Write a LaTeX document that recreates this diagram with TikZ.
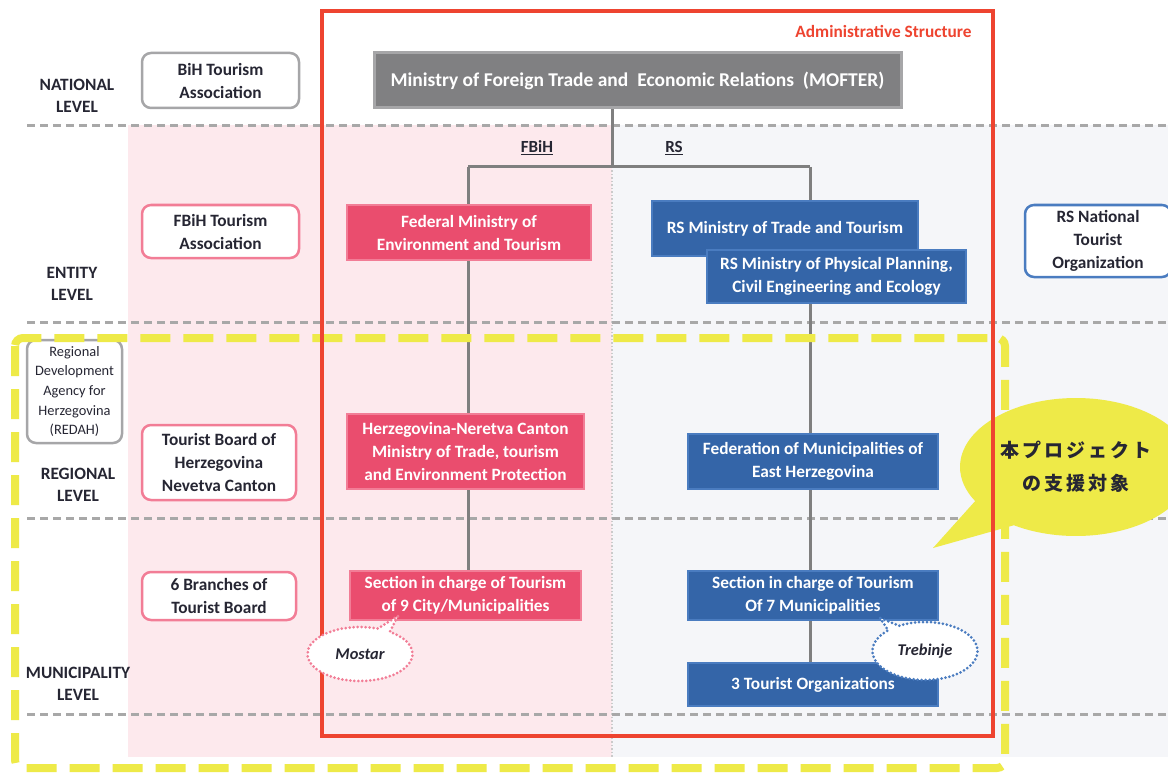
\documentclass[tikz,border=0pt]{standalone}
\usepackage{fontspec}
\setmainfont{Carlito}
\newfontfamily\jpfont{Noto Sans CJK JP}[LetterSpace=15]
\usetikzlibrary{shapes.geometric,shapes.callouts}
\definecolor{pinkfill}{HTML}{EA4D6E}
\definecolor{pinkline}{HTML}{F27D96}
\definecolor{bluefill}{HTML}{3465A8}
\definecolor{blueline}{HTML}{4A7CC0}
\definecolor{grayfill}{HTML}{808082}
\definecolor{grayline}{HTML}{A6A6A8}
\definecolor{pinkbg}{HTML}{FDE9ED}
\definecolor{graybg}{HTML}{F5F6F9}
\definecolor{gridgray}{HTML}{A8A8A8}
\definecolor{edgegray}{HTML}{7F7F7F}
\definecolor{framered}{HTML}{EE4430}
\definecolor{hlyellow}{HTML}{EEEA48}
\definecolor{inkdark}{HTML}{262633}
\begin{document}
\begin{tikzpicture}[x=1pt,y=-1pt]
	\tikzstyle{box}=[draw, line width=2pt, inner sep=0pt, align=center, text=white, font=\fontsize{17.3}{23}\selectfont\bfseries]
	\tikzstyle{pinkbox}=[box, fill=pinkfill, draw=pinkline]
	\tikzstyle{bluebox}=[box, fill=bluefill, draw=blueline]
	\tikzstyle{assoc}=[draw, rounded corners=9pt, line width=2.5pt, fill=white, inner sep=0pt, align=center, text=inkdark, font=\fontsize{17.3}{23}\selectfont\bfseries]
	\tikzstyle{level}=[align=center, text=inkdark, font=\fontsize{17.3}{22.5}\selectfont\bfseries]
	\tikzstyle{edge}=[draw=edgegray, line width=3pt]
	\tikzstyle{grid}=[draw=gridgray, line width=3pt, dash pattern=on 8pt off 5pt]
	\tikzstyle{city}=[ellipse callout, fill=white, line width=3pt, line cap=round, dash pattern=on 0pt off 4pt, inner sep=0pt, text=inkdark, font=\fontsize{16.4}{18}\selectfont\bfseries\itshape]

	\useasboundingbox (0,0) rectangle (1168,773);
	\fill[white] (0,0) rectangle (1168,773);
	\fill[pinkbg] (128,125) rectangle (612,757);
	\fill[graybg] (612,125) rectangle (1168,757);
	\draw[gridgray!60, line width=1.5pt, dotted] (612,125) -- (612,757);
	\foreach \y in {126,322,518,714}
		\draw[grid] (27,\y) -- (1168,\y);

	\node[level] (lnat) at (77,96) {NATIONAL\\LEVEL};
	\node[level] (lent) at (72,284) {ENTITY\\LEVEL};
	\node[level] (lreg) at (78,485) {REGIONAL\\LEVEL};
	\node[level] (lmun) at (78,684) {MUNICIPALITY\\LEVEL};

	\node[assoc, draw=grayline, minimum width=157, minimum height=55] (bihta) at (220.5,80.5) {BiH Tourism\\Association};
	\node[assoc, draw=pinkline, minimum width=157, minimum height=53] (fbihta) at (220.5,231.5) {FBiH Tourism\\Association};
	\node[assoc, draw=grayline, minimum width=95, minimum height=103, font=\fontsize{14.4}{19.7}\selectfont] (redah) at (74.5,391.5) {Regional\\Development\\Agency for\\Herzegovina\\(REDAH)};
	\node[assoc, draw=pinkline, minimum width=154, minimum height=75] (tbhnc) at (219,462.5) {Tourist Board of\\Herzegovina\\Nevetva Canton};
	\node[assoc, draw=pinkline, minimum width=154, minimum height=48] (branch) at (219,596) {6 Branches of\\Tourist Board};
	\node[assoc, draw=blueline, minimum width=146, minimum height=72] (rsnto) at (1098,241) {RS National\\Tourist\\Organization};

	\node[box, fill=grayfill, draw=grayline, line width=3pt, minimum width=527, minimum height=55, font=\fontsize{19.5}{23}\selectfont\bfseries] (mofter) at (637.5,80.5) {Ministry of Foreign Trade and\ \ Economic Relations\ \ (MOFTER)};
	\node[anchor=east, text=framered, font=\fontsize{17.3}{20}\selectfont\bfseries] (admin) at (975,31) {Administrative Structure};
	\node[text=inkdark, font=\fontsize{17}{20}\selectfont\bfseries] (fbihl) at (537,148) {\underline{FBiH}};
	\node[text=inkdark, font=\fontsize{17}{20}\selectfont\bfseries] (rsl) at (674,148) {\underline{RS}};

	\node[pinkbox, minimum width=244, minimum height=55] (fedmin) at (469,232.5) {Federal Ministry of\\Environment and Tourism};
	\node[bluebox, minimum width=266, minimum height=55] (rstrade) at (785,228.5) {RS Ministry of Trade and Tourism};
	\node[bluebox, minimum width=259, minimum height=53] (rsplan) at (836.5,276.5) {RS Ministry of Physical Planning,\\Civil Engineering and Ecology};
	\node[pinkbox, minimum width=237, minimum height=75] (canton) at (465.5,451.5) {Herzegovina-Neretva Canton\\Ministry of Trade, tourism\\and Environment Protection};
	\node[bluebox, minimum width=250, minimum height=55] (fedmun) at (813,461.5) {Federation of Municipalities of\\East Herzegovina};
	\node[pinkbox, minimum width=231, minimum height=49] (sec9) at (465.5,595.5) {Section in charge of Tourism\\of 9 City/Municipalities};
	\node[bluebox, minimum width=250, minimum height=49] (sec7) at (813,595.5) {Section in charge of Tourism\\Of 7 Municipalities};
	\node[bluebox, minimum width=250, minimum height=43] (tour3) at (813,684.5) {3 Tourist Organizations};

	\coordinate (split) at (612,167);
	\coordinate (fbx) at (468,167);
	\coordinate (rsx) at (810,167);
	\path[edge] (split |- mofter.south) -- (split);
	\path[edge] (fbx) -- (rsx);
	\path[edge] (fbx) -- (fbx |- fedmin.north);
	\path[edge] (fbx |- fedmin.south) -- (fbx |- canton.north);
	\path[edge] (fbx |- canton.south) -- (fbx |- sec9.north);
	\path[edge] (rsx) -- (rsx |- rstrade.north);
	\path[edge] (rsx |- rsplan.south) -- (rsx |- fedmun.north);
	\path[edge] (rsx |- fedmun.south) -- (rsx |- sec7.north);
	\path[edge] (rsx |- sec7.south) -- (rsx |- tour3.north);

	\draw[hlyellow, line width=8pt, rounded corners=8pt, dash pattern=on 30pt off 13pt] (15,338) rectangle (1005,768);
	\node[ellipse callout, fill=hlyellow, minimum width=232, minimum height=138, inner sep=0pt, callout pointer arc=28, callout absolute pointer={(933,548)}] (bubble) at (1076,467) {};
	\draw[framered, line width=3.5pt] (322,11) rectangle (993,736);
	\node[align=center, text=inkdark, font=\jpfont\fontsize{19}{33}\selectfont\bfseries] (target) at (bubble.center) {本プロジェクト\\の支援対象};

	\node[city, draw=pinkline, minimum width=105, minimum height=54, callout absolute pointer={(398,616)}] (mostar) at (360,654) {Mostar};
	\node[city, draw=blueline, minimum width=105, minimum height=58, callout absolute pointer={(880,618)}] (trebinje) at (925,651) {Trebinje};
\end{tikzpicture}
\end{document}
